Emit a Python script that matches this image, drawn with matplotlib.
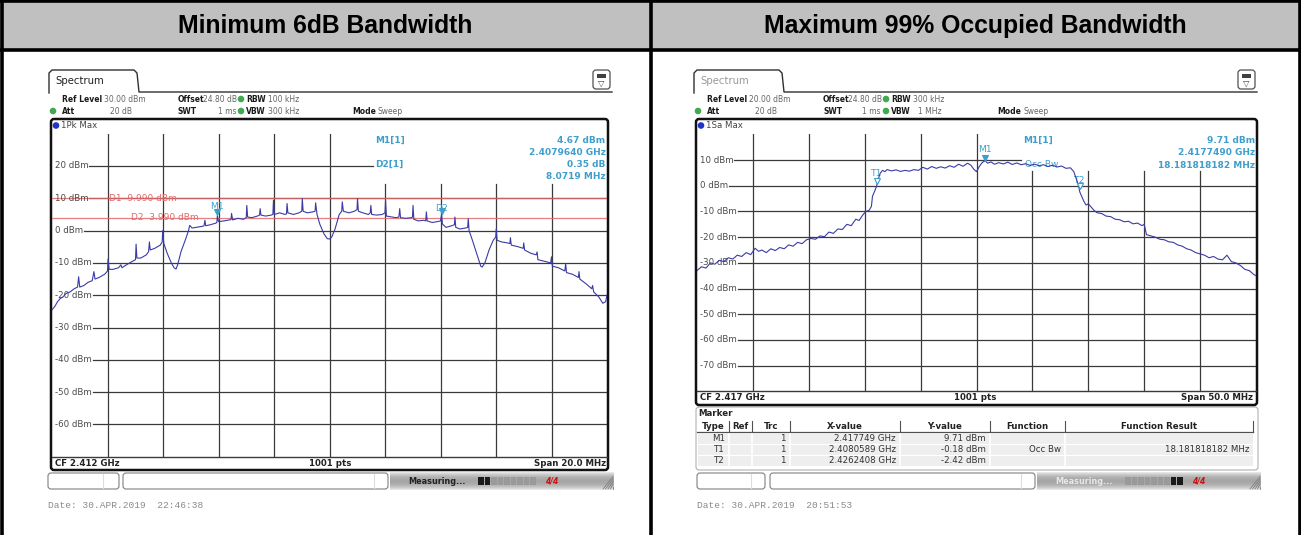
import numpy as np
import matplotlib.pyplot as plt
from matplotlib.patches import Rectangle, FancyBboxPatch

W, H = 1301, 535

titles = ["Minimum 6dB Bandwidth", "Maximum 99% Occupied Bandwidth"]

# ---- left screen: 6 dB bandwidth, CF 2.412 GHz, span 20 MHz (freq = offset from CF, MHz)
bw6_freq = [-10.00, -9.90, -9.80, -9.70, -9.60, -9.50, -9.35, -9.20, -9.08, -9.04, -9.00, -8.85,
            -8.70, -8.55, -8.49, -8.45, -8.30, -8.10, -8.00, -7.98, -7.94, -7.80, -7.60, -7.52,
            -7.48, -7.30, -7.10, -6.99, -6.97, -6.94, -6.80, -6.60, -6.52, -6.49, -6.46, -6.30,
            -6.10, -6.03, -6.01, -5.97, -5.85, -5.70, -5.60, -5.53, -5.47, -5.35, -5.20, -5.08,
            -5.04, -4.95, -4.80, -4.60, -4.52, -4.49, -4.46, -4.30, -4.10, -4.06, -4.04, -4.00,
            -3.80, -3.60, -3.55, -3.53, -3.49, -3.30, -3.10, -3.00, -2.98, -2.95, -2.80, -2.60,
            -2.52, -2.50, -2.47, -2.30, -2.10, -2.04, -2.02, -1.99, -1.80, -1.60, -1.55, -1.53,
            -1.50, -1.30, -1.10, -1.00, -0.98, -0.95, -0.80, -0.60, -0.52, -0.50, -0.45, -0.35,
            -0.20, -0.08, 0.00, 0.08, 0.20, 0.35, 0.44, 0.46, 0.50, 0.70, 0.90, 0.99,
            1.01, 1.04, 1.20, 1.40, 1.47, 1.49, 1.52, 1.70, 1.90, 2.00, 2.02, 2.05,
            2.20, 2.40, 2.50, 2.53, 2.56, 2.75, 2.95, 2.99, 3.01, 3.04, 3.20, 3.40,
            3.47, 3.49, 3.52, 3.70, 3.90, 4.00, 4.04, 4.07, 4.20, 4.40, 4.50, 4.52,
            4.55, 4.70, 4.90, 4.98, 5.00, 5.03, 5.15, 5.30, 5.45, 5.50, 5.60, 5.75,
            5.90, 5.99, 6.01, 6.04, 6.20, 6.40, 6.50, 6.52, 6.55, 6.80, 6.98, 7.00,
            7.03, 7.25, 7.45, 7.48, 7.51, 7.75, 7.97, 8.00, 8.03, 8.25, 8.48, 8.51,
            8.54, 8.75, 8.97, 8.99, 9.02, 9.25, 9.45, 9.48, 9.52, 9.70, 9.85, 9.95, 10.00]
bw6_level = [-24.5, -23.5, -22.0, -21.0, -20.5, -19.5, -19.0, -18.0, -17.5, -14.3, -17.5, -17.0,
             -16.0, -15.5, -12.7, -15.0, -14.5, -13.5, -12.5, -8.8, -12.0, -12.0, -11.5, -10.6,
             -11.5, -10.5, -9.5, -9.0, -4.2, -8.5, -8.5, -7.5, -6.5, -3.5, -6.0, -5.5,
             -4.5, -3.5, 0.0, -4.0, -7.0, -10.0, -11.5, -11.9, -10.5, -6.5, -3.0, 0.0,
             1.6, 0.8, 1.0, 1.3, 1.5, 3.2, 1.5, 1.8, 2.3, 2.5, 4.67, 2.8,
             3.0, 3.3, 3.4, 5.3, 3.3, 3.8, 3.5, 4.0, 7.8, 4.2, 4.0, 4.5,
             4.8, 6.8, 4.8, 4.5, 4.8, 5.0, 9.4, 5.0, 5.5, 5.0, 5.2, 8.4,
             5.5, 5.0, 5.5, 6.0, 9.9, 6.0, 5.5, 5.8, 6.0, 8.6, 5.0, 2.0,
             -1.0, -2.5, -2.6, -2.0, 0.5, 5.0, 6.0, 8.9, 6.0, 5.5, 6.0, 6.5,
             9.9, 6.0, 5.5, 5.0, 5.5, 7.8, 5.0, 4.8, 5.0, 5.5, 9.4, 4.5,
             4.3, 4.0, 4.2, 6.8, 4.0, 3.8, 4.0, 4.2, 7.8, 3.5, 3.0, 3.2,
             3.0, 5.8, 3.0, 2.5, 2.8, 3.0, 5.02, 2.0, 1.0, 1.5, 1.8, 4.2,
             1.0, 0.5, 0.8, 1.0, 3.7, 0.0, -3.0, -7.0, -11.0, -11.3, -10.0, -6.0,
             -3.0, -2.0, 0.6, -3.0, -3.5, -3.8, -4.0, -2.2, -4.5, -5.0, -5.5, -3.8,
             -6.0, -7.0, -7.5, -6.6, -9.0, -9.5, -10.0, -8.1, -11.0, -11.5, -12.5, -10.2,
             -13.0, -13.5, -14.5, -12.7, -15.0, -16.5, -18.0, -17.0, -19.0, -20.5, -22.5, -22.0, -20.0]
bw6_ref = 30
bw6_ylabels = ["20 dBm", "10 dBm", "0 dBm", "-10 dBm", "-20 dBm", "-30 dBm", "-40 dBm", "-50 dBm", "-60 dBm"]
bw6_ylevels = [20, 10, 0, -10, -20, -30, -40, -50, -60]
bw6_dlines = [9.990, 3.990]
bw6_dlabels = ["D1  9.990 dBm", "D2  3.990 dBm"]
bw6_m1 = (-4.04, 4.67)
bw6_d2 = (4.04, 5.02)
bw6_info_left = ["M1[1]", "D2[1]"]
bw6_info_right = ["4.67 dBm", "2.4079640 GHz", "0.35 dB", "8.0719 MHz"]

# ---- right screen: 99 % occupied bandwidth, CF 2.417 GHz, span 50 MHz
obw_freq = [-25.0, -24.6, -24.2, -23.8, -23.4, -23.0, -22.6, -22.2, -21.8, -21.4, -21.0, -20.6,
            -20.2, -19.8, -19.5, -19.2, -18.8, -18.4, -18.0, -17.6, -17.2, -16.8, -16.4, -16.0,
            -15.6, -15.2, -14.8, -14.4, -14.0, -13.6, -13.2, -12.8, -12.4, -12.0, -11.6, -11.2,
            -10.8, -10.5, -10.2, -9.9, -9.6, -9.4, -9.3, -9.1, -8.94, -8.8, -8.6, -8.4,
            -8.2, -8.0, -7.6, -7.2, -6.8, -6.4, -6.0, -5.6, -5.2, -4.8, -4.4, -4.0,
            -3.6, -3.2, -2.8, -2.4, -2.0, -1.6, -1.2, -0.8, -0.5, -0.25, 0.0, 0.25,
            0.5, 0.75, 1.0, 1.3, 1.6, 2.0, 2.4, 2.8, 3.2, 3.6, 4.0, 4.4,
            4.8, 5.2, 5.6, 6.0, 6.4, 6.8, 7.2, 7.6, 8.0, 8.4, 8.7, 8.9,
            9.1, 9.24, 9.4, 9.6, 9.8, 10.0, 10.2, 10.5, 10.8, 11.2, 11.6, 12.0,
            12.4, 12.8, 13.2, 13.6, 14.0, 14.4, 14.8, 15.0, 15.2, 15.6, 16.0, 16.4,
            16.8, 17.2, 17.6, 18.0, 18.4, 18.8, 19.2, 19.6, 20.0, 20.4, 20.8, 21.2,
            21.6, 22.0, 22.4, 22.8, 23.2, 23.6, 24.0, 24.4, 24.8, 25.0]
obw_level = [-33.0, -31.5, -32.0, -30.0, -30.5, -29.0, -29.5, -28.0, -28.5, -27.0, -27.5, -26.0,
             -26.8, -24.3, -25.5, -25.0, -26.0, -24.5, -25.2, -24.0, -24.5, -23.0, -23.5, -22.0,
             -22.5, -21.0, -20.5, -20.8, -19.5, -19.8, -18.0, -18.5, -16.8, -17.0, -15.0, -15.5,
             -13.0, -13.5, -11.5, -10.0, -9.5, -8.0, -4.0, -2.0, -0.18, 2.5, 5.0, 6.0,
             5.5, 6.3, 5.8, 6.2, 5.6, 6.0, 5.7, 6.3, 6.0, 7.2, 6.5, 7.5,
             6.8, 7.4, 6.9, 7.8, 7.2, 8.4, 7.6, 8.8, 8.0, 6.5, 5.5, 7.5,
             9.0, 9.71, 8.8, 9.3, 8.4, 9.0, 8.5, 9.2, 8.3, 8.9, 8.2, 8.6,
             7.9, 8.4, 7.8, 8.2, 7.5, 8.0, 7.3, 7.7, 6.8, 7.0, 5.5, 3.0,
             0.5, -2.42, -4.0, -6.0, -7.5, -7.0, -8.0, -9.5, -10.5, -10.8, -11.8, -12.0,
             -13.0, -13.2, -14.0, -13.8, -14.8, -14.5, -15.5, -15.0, -19.0, -19.5, -20.0, -20.8,
             -21.0, -21.8, -22.0, -23.0, -23.5, -24.5, -25.0, -26.0, -26.5, -27.0, -28.0, -27.5,
             -28.5, -28.8, -27.0, -29.5, -30.0, -31.0, -32.5, -33.0, -34.5, -35.0]
obw_ref = 20
obw_ylabels = ["10 dBm", "0 dBm", "-10 dBm", "-20 dBm", "-30 dBm", "-40 dBm", "-50 dBm", "-60 dBm", "-70 dBm"]
obw_ylevels = [10, 0, -10, -20, -30, -40, -50, -60, -70]
obw_m1 = (0.75, 9.71)
obw_t1 = (-8.94, -0.18)
obw_t2 = (9.24, -2.42)
obw_info_left = ["M1[1]"]
obw_info_right = ["9.71 dBm", "2.4177490 GHz", "18.181818182 MHz"]

table_head = ["Type", "Ref", "Trc", "X-value", "Y-value", "Function", "Function Result"]
table_rows = [["M1", "", "1", "2.417749 GHz", "9.71 dBm", "", ""],
              ["T1", "", "1", "2.4080589 GHz", "-0.18 dBm", "Occ Bw", "18.181818182 MHz"],
              ["T2", "", "1", "2.4262408 GHz", "-2.42 dBm", "", ""]]

TRACE = '#3b3ba6'
MARK = '#3f9fcc'
RED = '#e06a6a'
GRID = '#3a3a3a'
LBL = '#4a4a4a'
FS = 6.2
SFS = 5.5
INSTR = 'DejaVu Sans'

fig = plt.figure(figsize=(W / 100, H / 100), dpi=100)
bg = fig.add_axes([0, 0, 1, 1])
bg.set_xlim(0, W)
bg.set_ylim(H, 0)
bg.axis('off')


def px_axes(x0, y0, x1, y1):
    return fig.add_axes([x0 / W, 1 - y1 / H, (x1 - x0) / W, (y1 - y0) / H])


# ---- outer table
HEAD = 50
bg.add_patch(Rectangle((0, 0), W, HEAD, facecolor='#c0c0c0', edgecolor='none'))
for x in (1.5, 650.5, W - 1.5):
    bg.plot([x, x], [0, H], color='black', lw=2.6, solid_capstyle='butt')
for y in (1.2, HEAD):
    bg.plot([0, W], [y, y], color='black', lw=2.6, solid_capstyle='butt')
bg.text(325, HEAD / 2 + 1, titles[0], ha='center', va='center', fontsize=17.8,
        fontweight='bold', family='Liberation Sans')
bg.text(975, HEAD / 2 + 1, titles[1], ha='center', va='center', fontsize=17.8,
        fontweight='bold', family='Liberation Sans')


def txt(x, y, s, bold=False, color='#222222', ha='left', size=FS, **kw):
    bg.text(x, y, s, ha=ha, va='center', fontsize=size, family=INSTR,
            fontweight='bold' if bold else 'normal', color=color, **kw)


def dot(x, y, c='#3faa50'):
    bg.add_patch(plt.Circle((x, y), 2.6, color=c))


def screen_chrome(dx, right, active, settings, trace_name, bottom):
    # tab + icon
    tc = '#222222' if active else '#999999'
    bg.plot([dx + 49, dx + 49, dx + 52, dx + 134, dx + 137, dx + 139, dx + 612],
            [93, 73, 70, 70, 73, 92, 92], color='#303030', lw=1.0)
    txt(dx + 55, 81.5, "Spectrum", color=tc, size=7.3)
    bg.add_patch(FancyBboxPatch((dx + 593, 70), 17, 19, boxstyle='round,pad=0,rounding_size=3',
                                facecolor='white', edgecolor='#505050', lw=0.9))
    bg.add_patch(Rectangle((dx + 597, 74), 9, 3.5, facecolor='#404040', edgecolor='none'))
    bg.text(dx + 601.5, 83.5, "\u25bd", ha='center', va='center', fontsize=6, color='#404040')
    for s, x, y, bold, ha in settings:
        if s == '*':
            dot(dx + x, y)
        else:
            txt(dx + x, y, s, bold=bold, color='#1a1a1a' if bold else '#666666', ha=ha, size=SFS)
    # frame
    bg.add_patch(FancyBboxPatch((dx + 51, 119), right - 51, bottom - 119,
                                boxstyle='round,pad=0,rounding_size=3', facecolor='none',
                                edgecolor='#111111', lw=1.8, zorder=5))
    dot(dx + 56, 125.5, c='#2233cc')
    txt(dx + 61, 125.5, trace_name, color='#444444')


def grid_axes(ax, xlim, ylim, levels, labels, cut_x, cut_y, hline_stop):
    ax.set_xlim(*xlim)
    ax.set_ylim(*ylim)
    ax.axis('off')
    div = (xlim[1] - xlim[0]) / 10
    for i in range(1, 10):
        x = xlim[0] + i * div
        top = ylim[1] if x < cut_x else cut_y
        ax.plot([x, x], [ylim[0], top], color=GRID, lw=0.9)
    ax.plot([xlim[0], xlim[1]], [ylim[0], ylim[0]], color=GRID, lw=1.0, clip_on=False)
    fig.canvas.draw()
    r = fig.canvas.get_renderer()
    inv = ax.transData.inverted()
    for lev, lab in zip(levels, labels):
        t = ax.text(xlim[0] + 0.005 * (xlim[1] - xlim[0]), lev, lab, ha='left', va='center',
                    fontsize=FS, family=INSTR, color=LBL)
        bb = t.get_window_extent(r)
        xs = inv.transform((bb.x1 + 1, 0))[0]
        xe = hline_stop if lev > cut_y else xlim[1]
        ax.plot([xs, xe], [lev, lev], color=GRID, lw=0.9)


def marker(ax, x, y, label, ly, filled=True):
    ax.plot([x], [y + 1.2], marker='v', ms=4.5, color=MARK,
            mfc=MARK if filled else 'white', mew=0.8, zorder=6)
    ax.text(x, ly, label, ha='center', va='center', fontsize=FS + 0.4, family=INSTR, color=MARK)


# ================= left screen
left_settings = [("Ref Level", 62, 99, True, 'left'), ("30.00 dBm", 104, 99, False, 'left'),
                 ("Offset", 178, 99, True, 'left'), ("24.80 dB", 237, 99, False, 'right'),
                 ('*', 241, 99, 0, 0),
                 ("RBW", 246, 99, True, 'left'), ("100 kHz", 268, 99, False, 'left'),
                 ('*', 53, 111, 0, 0), ("Att", 62, 111, True, 'left'), ("20 dB", 132, 111, False, 'right'),
                 ("SWT", 178, 111, True, 'left'), ("1 ms", 236, 111, False, 'right'),
                 ('*', 241, 111, 0, 0),
                 ("VBW", 246, 111, True, 'left'), ("300 kHz", 268, 111, False, 'left'),
                 ("Mode", 352, 111, True, 'left'), ("Sweep", 378, 111, False, 'left')]
screen_chrome(0, 608, True, left_settings, "1Pk Max", 470)

axl = px_axes(52, 133.7, 607, 456.7)
grid_axes(axl, (-10, 10), (bw6_ref - 100, bw6_ref), bw6_ylevels, bw6_ylabels, 1.6, 14.5, 1.56)
for lev, lab, lx in zip(bw6_dlines, bw6_dlabels, (-7.95, -7.15)):
    axl.axhline(lev, color=RED, lw=0.9, alpha=0.85)
    axl.text(lx, lev, lab, ha='left', va='center', fontsize=FS + 0.3, family=INSTR, color=RED)
axl.plot(bw6_freq, bw6_level, color=TRACE, lw=0.8, zorder=4)
marker(axl, bw6_m1[0], bw6_m1[1], "M1", 7.6)
marker(axl, bw6_d2[0], bw6_d2[1], "D2", 6.9)
axl.text(1.63, 27.9, bw6_info_left[0], ha='left', va='center', fontsize=FS + 0.3, family=INSTR,
         color=MARK, fontweight='bold')
axl.text(1.63, 20.4, bw6_info_left[1], ha='left', va='center', fontsize=FS + 0.3, family=INSTR,
         color=MARK, fontweight='bold')
for s, yy in zip(bw6_info_right, (27.9, 24.1, 20.4, 16.6)):
    axl.text(9.95, yy, s, ha='right', va='center', fontsize=FS + 0.3, family=INSTR,
             color=MARK, fontweight='bold')

# bottom line of the left screen
txt(55, 463.5, "CF 2.412 GHz", bold=True)
txt(330, 463.5, "1001 pts", bold=True, ha='center')
txt(606, 463.5, "Span 20.0 MHz", bold=True, ha='right')

# ================= right screen
DX = 645
right_settings = [("Ref Level", 62, 99, True, 'left'), ("20.00 dBm", 104, 99, False, 'left'),
                  ("Offset", 178, 99, True, 'left'), ("24.80 dB", 237, 99, False, 'right'),
                  ('*', 241, 99, 0, 0),
                  ("RBW", 246, 99, True, 'left'), ("300 kHz", 268, 99, False, 'left'),
                  ('*', 53, 111, 0, 0), ("Att", 62, 111, True, 'left'), ("20 dB", 132, 111, False, 'right'),
                  ("SWT", 178, 111, True, 'left'), ("1 ms", 236, 111, False, 'right'),
                  ('*', 241, 111, 0, 0),
                  ("VBW", 246, 111, True, 'left'), ("1 MHz", 297, 111, False, 'right'),
                  ("Mode", 352, 111, True, 'left'), ("Sweep", 378, 111, False, 'left')]
screen_chrome(DX, 1257 - DX, False, right_settings, "1Sa Max", 405)

axr = px_axes(697, 134.4, 1256, 391.4)
grid_axes(axr, (-25, 25), (obw_ref - 100, obw_ref), obw_ylevels, obw_ylabels, 4.0, 5.7, 4.0)
axr.plot(obw_freq, obw_level, color=TRACE, lw=0.8, zorder=4)
marker(axr, obw_m1[0], obw_m1[1], "M1", 14.1)
marker(axr, obw_t1[0], obw_t1[1] + 1.0, "T1", 4.6, filled=False)
marker(axr, obw_t2[0], obw_t2[1] + 1.2, "T2", 2.2, filled=False)
axr.text(4.3, 8.3, "Occ Bw", ha='left', va='center', fontsize=FS + 0.3, family=INSTR, color=MARK)
axr.text(4.16, 17.6, obw_info_left[0], ha='left', va='center', fontsize=FS + 0.3, family=INSTR,
         color=MARK, fontweight='bold')
for s, yy in zip(obw_info_right, (17.6, 12.8, 8.0)):
    axr.text(24.9, yy, s, ha='right', va='center', fontsize=FS + 0.3, family=INSTR,
             color=MARK, fontweight='bold')

txt(700, 398, "CF 2.417 GHz", bold=True)
txt(975, 398, "1001 pts", bold=True, ha='center')
txt(1253, 398, "Span 50.0 MHz", bold=True, ha='right')

# marker table
bg.add_patch(FancyBboxPatch((696, 407), 562, 63, boxstyle='round,pad=0,rounding_size=3',
                            facecolor='white', edgecolor='#b0b0b0', lw=0.8))
txt(698, 413.5, "Marker", bold=True)
cols = [697, 729, 752, 790, 900, 990, 1065, 1253]
for c in cols[1:]:
    bg.plot([c, c], [421, 432], color='#505050', lw=0.8)
bg.plot([697, 1253], [432, 432], color='#505050', lw=0.9)
for j, h in enumerate(table_head):
    txt((cols[j] + cols[j + 1]) / 2, 426.5, h, bold=True, ha='center')
for i, row in enumerate(table_rows):
    y0 = 433.5 + i * 11
    bg.add_patch(Rectangle((698, y0), 555, 10, facecolor='#eeeeee', edgecolor='none'))
    for c in cols[1:-1]:
        bg.plot([c, c], [y0, y0 + 10], color='white', lw=1.2)
    for j, v in enumerate(row):
        if v:
            txt(cols[j + 1] - 4, y0 + 5, v, ha='right', color='#333333', size=FS)

# ---- status bars and dates
grad = np.linspace(0, 1, 20).reshape(-1, 1)
for x0, x1, b1, b2, prog, date in [(48, 614, (48, 119, 103), (123, 388, 374), 'left',
                                    "Date: 30.APR.2019  22:46:38"),
                                   (697, 1261, (697, 765, 751), (770, 1035, 1021), 'right',
                                    "Date: 30.APR.2019  20:51:53")]:
    g0 = b2[1] + 2
    bg.imshow(1 - 0.35 * np.sin(np.pi * grad) ** 0.7, extent=(g0, x1, 491, 471), cmap='gray',
              vmin=0, vmax=1, aspect='auto', zorder=1)
    for a, b, inner in (b1, b2):
        bg.add_patch(FancyBboxPatch((a, 473), b - a, 16, boxstyle='round,pad=0,rounding_size=3',
                                    facecolor='white', edgecolor='#808080', lw=0.8, zorder=2))
        bg.plot([inner, inner], [474, 488], color='#dddddd', lw=0.8, zorder=3)
    px = g0 + 88
    for k in range(9):
        dark = (k < 2) if prog == 'left' else (k >= 7)
        bg.add_patch(Rectangle((px + k * 6.5, 477), 5.5, 8, facecolor='#1a1a1a' if dark else '#9a9a9a',
                               edgecolor='none', zorder=3))
    bg.text(px + 67, 481, "4/4", ha='left', va='center', fontsize=5.5, color='#cc1111',
            fontweight='bold', style='italic', zorder=3)
    if prog == 'left':
        txt(g0 + 18, 481, "Measuring...", bold=True, size=FS - 0.3)
    else:
        txt(g0 + 18, 481, "Measuring...", bold=True, size=FS - 0.3, color='#e8e8e8')
    for k in range(5):
        bg.plot([x1 - 1 - k * 2.5, x1 - 1], [489, 489 - 2.5 - k * 2.5], color='#808080', lw=0.6, zorder=3)
    bg.text(x0, 506, date, ha='left', va='center', fontsize=6.8, family='Liberation Mono',
            color='#8a8a8a')

fig.savefig('out.png', dpi=100)
